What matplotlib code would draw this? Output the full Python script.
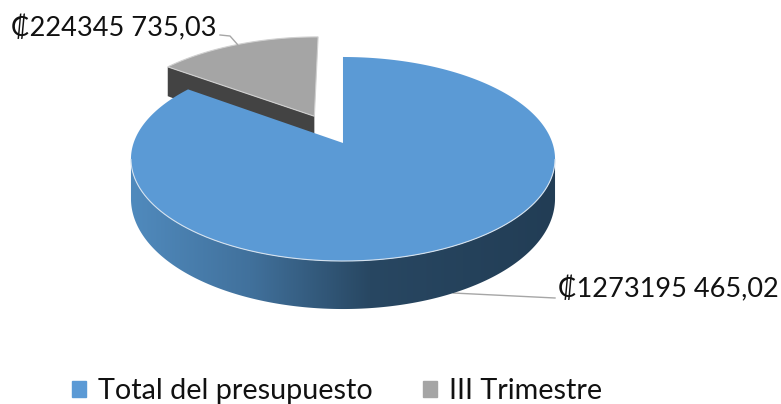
import numpy as np
import matplotlib
matplotlib.use('Agg')
import matplotlib.pyplot as plt
from matplotlib.patches import Patch, Polygon

categories = ['Total del presupuesto', 'III Trimestre']
values = [1273195465.02, 224345735.03]
value_labels = ['₡1273195 465,02', '₡224345 735,03']

plt.rcParams['font.family'] = ['Lato', 'DejaVu Sans']

BLUE = '#5b9ad5'
GRAY = '#a5a5a5'
WALL = '#434343'
EDGE = '#d5e2ef'

# flat disc -> picture, perspective squash
CX, CY = 343, 143
RX, RY = 209.4, 99.5
K = 0.157
EXPLODE = 0.315


def depth(v):
    return 38 + 10 * v


def project(u, v, drop=False):
    w = 1 - K * v
    x = CX + RX * u / w
    y = CY + RY * v / w
    if drop:
        y = y + depth(v)
    return x, y


def disc(theta):
    # theta in radians, clockwise from the top
    return np.sin(theta), -np.cos(theta)


def side_colors(x):
    xs = [132, 250, 370, 556]
    rs = [0x50, 0x41, 0x28, 0x22]
    gs = [0x8a, 0x71, 0x47, 0x3d]
    bs = [0xbd, 0x9c, 0x62, 0x55]
    return np.stack([np.interp(x, xs, rs), np.interp(x, xs, gs), np.interp(x, xs, bs)], axis=-1) / 255


fig = plt.figure(figsize=(7.81, 4.04), dpi=100)
ax = fig.add_axes([0, 0, 1, 1])

sweep = 2 * np.pi * values[1] / sum(values)

# exploded slice, goes behind the big one
mid = -sweep / 2
ou, ov = disc(mid)
ou, ov = ou * EXPLODE, ov * EXPLODE
t = np.linspace(-sweep, 0, 80)
du, dv = disc(t)
gx, gy = project(du + ou, dv + ov)
ax_, ay_ = project(ou, ov)
bx_, by_ = project(ou, ov, drop=True)
cx_, cy_ = project(du[0] + ou, dv[0] + ov, drop=True)
ax.fill([gx[0], ax_, bx_, cx_], [gy[0], ay_, by_, cy_], color=WALL, lw=0, zorder=1)
ax.fill(np.r_[ax_, gx], np.r_[ay_, gy], facecolor=GRAY, edgecolor='#d0d0d0', lw=0.8, zorder=2)

# rim of the big slice, gradient clipped to its outline
t = np.linspace(0, 2 * np.pi - sweep, 500)
du, dv = disc(t)
tx, ty = project(du, dv)
lx, ly = project(du, dv, drop=True)
front = dv > K  # widest points of the squashed ellipse
rim = Polygon(np.c_[np.r_[tx[front], lx[front][::-1]], np.r_[ty[front], ly[front][::-1]]],
              closed=True, transform=ax.transData, facecolor='none', edgecolor='none')
ax.add_patch(rim)
grad_x = np.linspace(120, 570, 450)
img = ax.imshow(side_colors(grad_x)[np.newaxis, :, :], extent=(120, 570, 330, 100), aspect='auto',
                interpolation='bilinear', zorder=3)
img.set_clip_path(rim)

ax.fill(np.r_[CX, tx], np.r_[CY, ty], color=BLUE, lw=0, zorder=4)
ax.plot(tx[dv > K], ty[dv > K], color=EDGE, lw=0.8, zorder=5)
ax.plot([CX, tx[0]], [CY, ty[0]], color='#c9d3dc', lw=0.8, zorder=3.5)

# leader lines start from the slice middles
u, v = disc((2 * np.pi - sweep) / 2)
sx, sy = project(u, v, drop=True)
ax.plot([sx, 555], [sy, 298], color='#a6a6a6', lw=1, zorder=2.5)
u, v = disc(mid)
sx, sy = project(u + ou, v + ov)
ax.plot([sx, 230, 220], [sy, 36, 35], color='#a6a6a6', lw=1, zorder=2.5)

ax.text(558, 297, value_labels[0], fontsize=19.5, color='#111111', ha='left', va='baseline')
ax.text(11, 36, value_labels[1], fontsize=19.5, color='#111111', ha='left', va='baseline')

handles = [Patch(color=BLUE), Patch(color=GRAY)]
ax.legend(handles, categories, loc='lower left', bbox_to_anchor=(72 / 781, 0.0), ncol=2,
          frameon=False, fontsize=20.7, labelcolor='#111111', handlelength=0.49, handleheight=0.49,
          handletextpad=0.42, columnspacing=1.74, borderpad=0, borderaxespad=0)

ax.set_xlim(0, 781)
ax.set_ylim(404, 0)
ax.axis('off')

plt.savefig('out.png', dpi=100)
